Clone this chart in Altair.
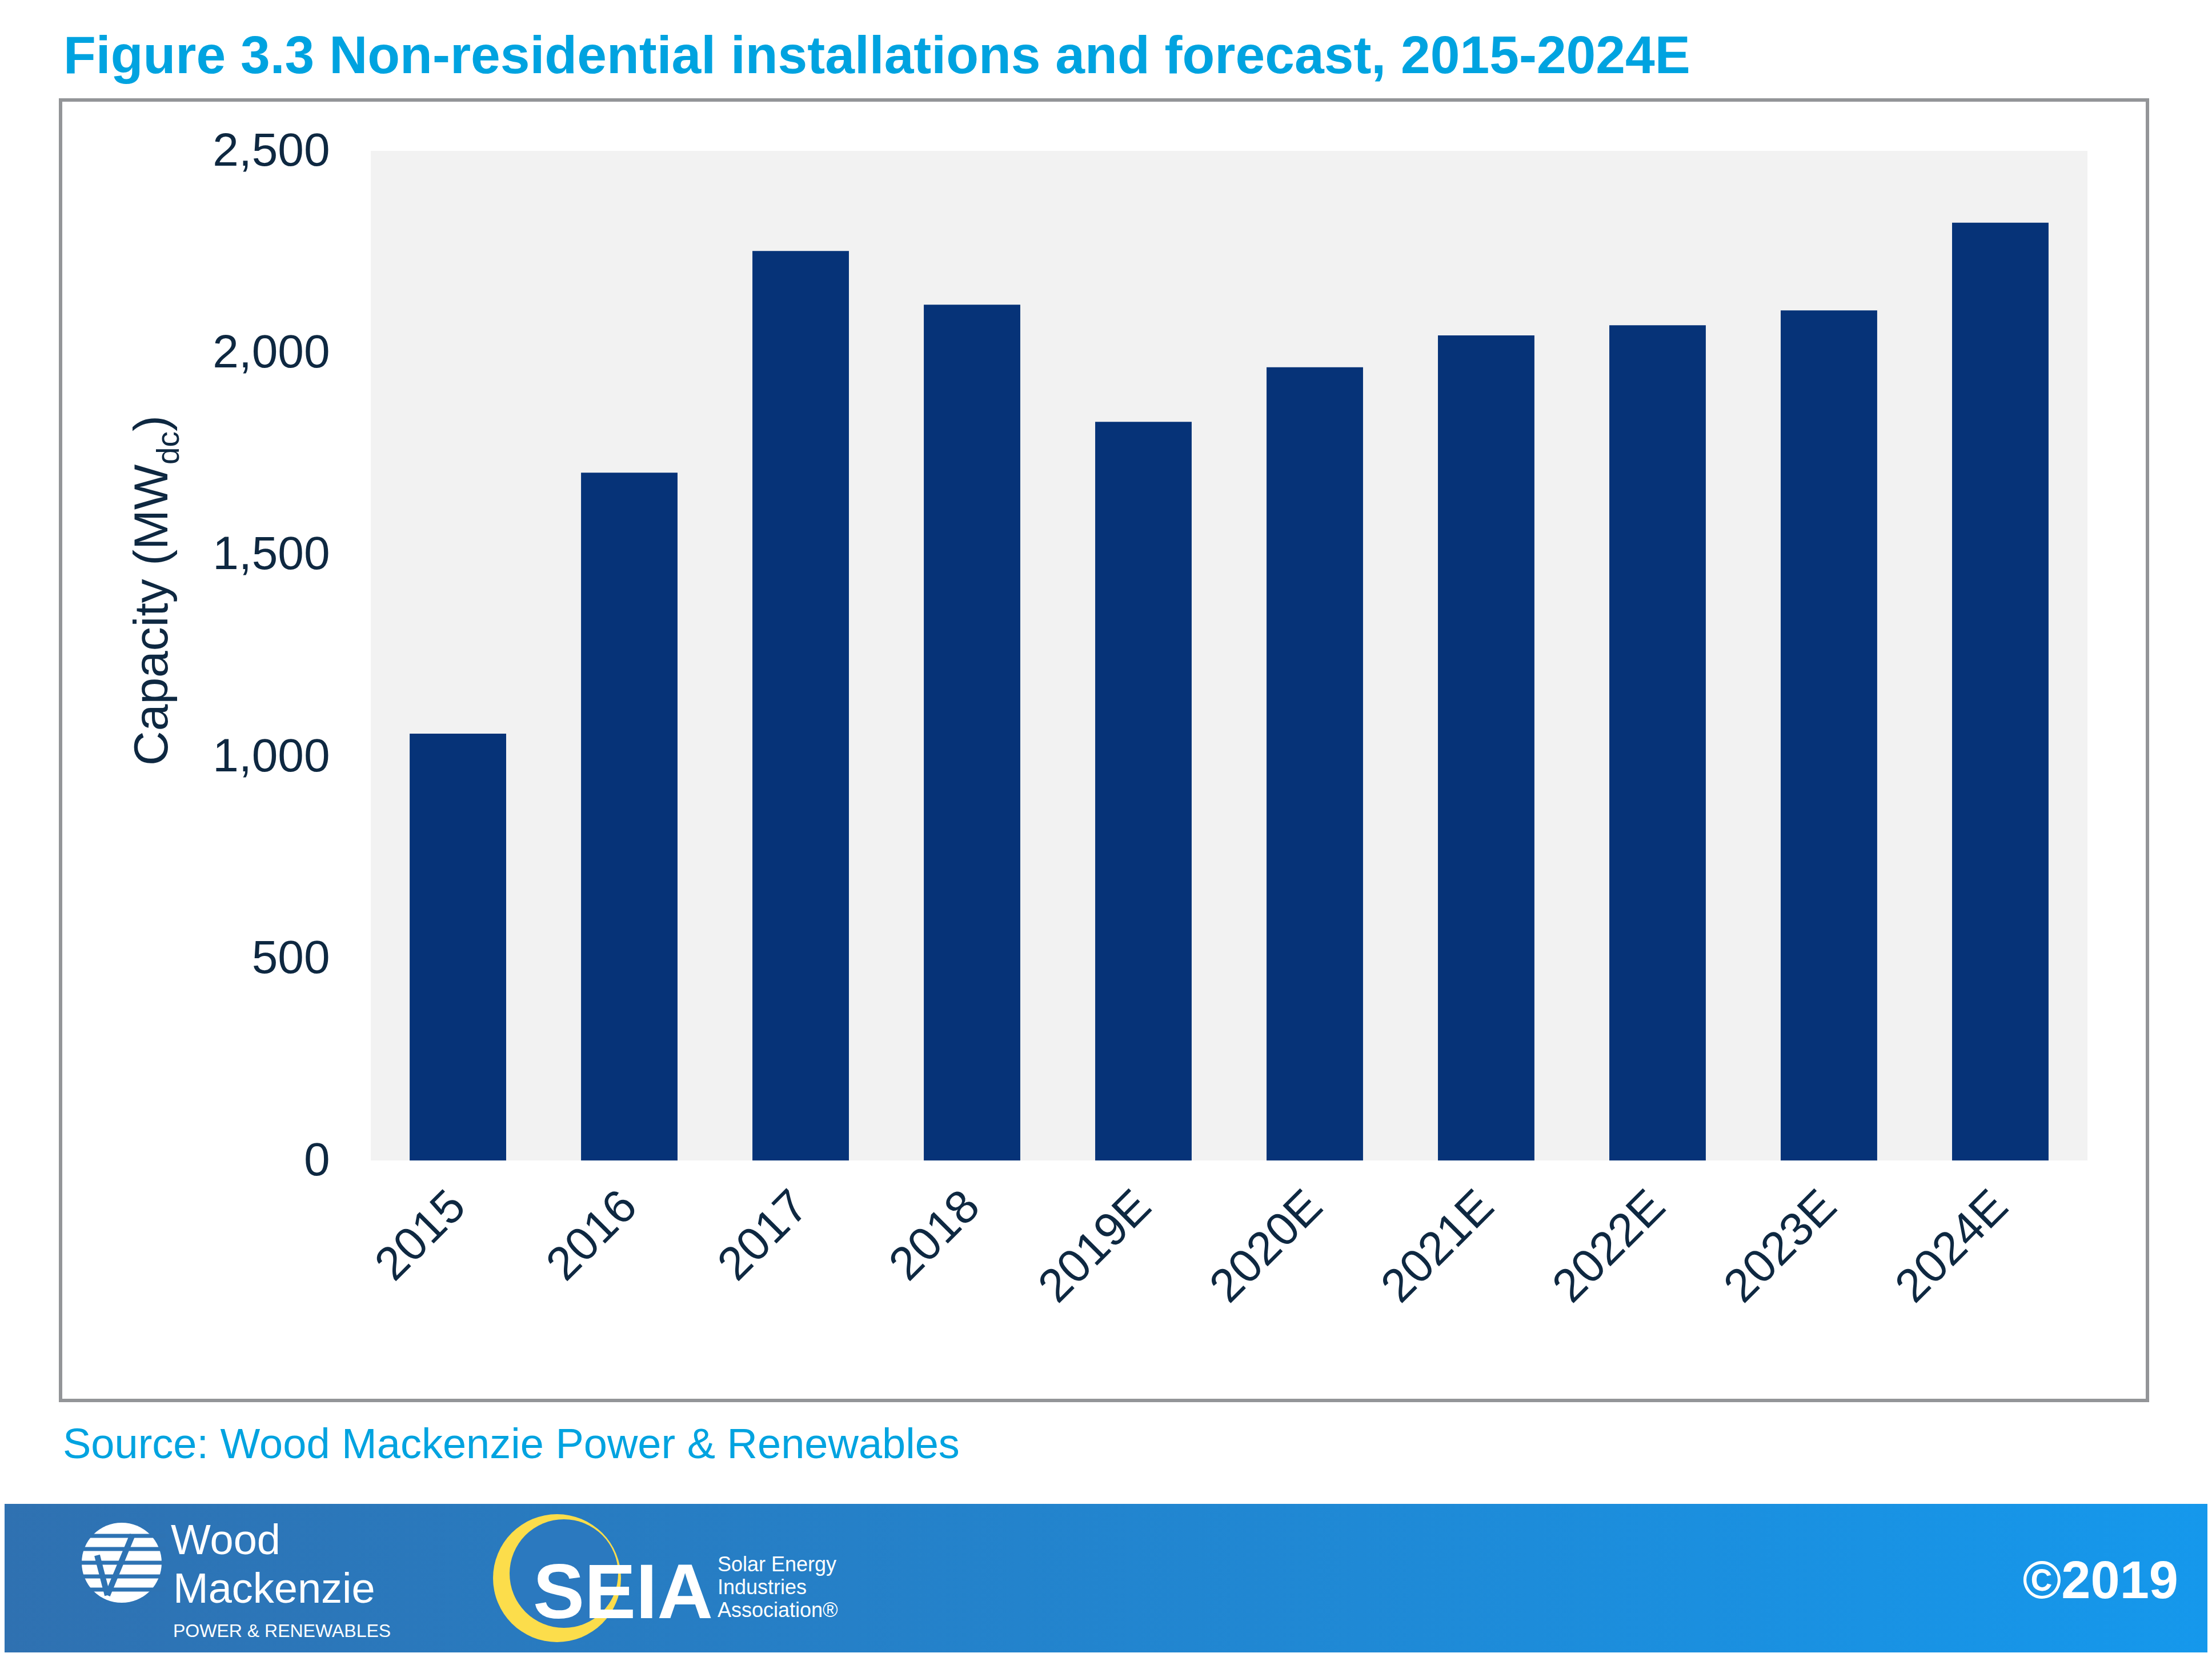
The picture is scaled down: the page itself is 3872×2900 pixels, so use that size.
import altair as alt
import pandas as pd

# ---------------- data ----------------
years = ["2015", "2016", "2017", "2018", "2019E", "2020E", "2021E", "2022E", "2023E", "2024E"]
capacity = [1057, 1703, 2252, 2119, 1829, 1964, 2043, 2068, 2105, 2322]
y_ticks = [0, 500, 1000, 1500, 2000, 2500]

title_text = "Figure 3.3 Non-residential installations and forecast, 2015-2024E"
source_text = "Source: Wood Mackenzie Power & Renewables"
ytitle_main = "Capacity (MW"
ytitle_sub = "dc"
ytitle_close = ")"
copyright_text = "\u00a92019"
wm_line1 = "Wood"
wm_line2 = "Mackenzie"
wm_line3 = "POWER & RENEWABLES"
seia_big = "SEIA"
seia_lines = ["Solar Energy", "Industries", "Association\u00ae"]

df = pd.DataFrame({"year": years, "capacity": capacity})
one = pd.DataFrame({"k": [0]})

# ---------------- style ----------------
W, H = 3005, 1767
FONT = "Liberation Sans, Arial, sans-serif"
TEXT_DARK = "#0E2841"
CYAN = "#00A3E0"
NAVY = "#063378"
FOOT_L = "#2F71B1"
FOOT_R = "#1598EC"


def txt(text, x, y, size, color, weight="normal", align="left", angle=0, baseline="alphabetic"):
    return alt.Chart(one).mark_text(
        text=text, fontSize=size, color=color, fontWeight=weight, align=align,
        baseline=baseline, angle=angle, font=FONT
    ).encode(x=alt.value(x), y=alt.value(y))


def rule(x, y, x2, y2, color, width):
    return alt.Chart(one).mark_rule(color=color, strokeWidth=width).encode(
        x=alt.value(x), y=alt.value(y), x2=alt.value(x2), y2=alt.value(y2))


def dot(x, y, size, color):
    return alt.Chart(one).mark_point(shape="circle", filled=True, size=size, color=color, opacity=1).encode(
        x=alt.value(x), y=alt.value(y))


# ---------------- main bars ----------------
bars = alt.Chart(df).mark_bar(color=NAVY).encode(
    x=alt.X("year:N", sort=years,
            scale=alt.Scale(paddingInner=0.437, paddingOuter=0.227),
            axis=alt.Axis(title=None, labelAngle=315, labelAlign="right", labelBaseline="middle",
                          labelFontSize=82, labelFont=FONT, labelColor=TEXT_DARK, labelPadding=67,
                          labelLimit=2000, ticks=False, tickSize=0, domain=False, labelOverlap=False)),
    y=alt.Y("capacity:Q", scale=alt.Scale(domain=[0, 2500], nice=False),
            axis=alt.Axis(title=None, values=y_ticks, format=",d", labelFontSize=82, labelFont=FONT,
                          labelColor=TEXT_DARK, labelPadding=72, labelLimit=2000, ticks=False,
                          tickSize=0, domain=False, grid=False)),
)

# ---------------- frame, title, source ----------------
frame = alt.Chart(one).mark_rect(fill="white", fillOpacity=0, stroke="#939598", strokeWidth=6).encode(
    x=alt.value(-543), x2=alt.value(3110), y=alt.value(-89), y2=alt.value(2187))

title = txt(title_text, -538, -136, 93, CYAN, weight="bold")
source = txt(source_text, -539, 2288, 74, CYAN)

yt1 = txt(ytitle_main, -356, 1076, 84, TEXT_DARK, angle=270)
yt2 = txt(ytitle_sub, -336, 549, 55, TEXT_DARK, angle=270)
yt3 = txt(ytitle_close, -356, 491, 84, TEXT_DARK, angle=270)

# ---------------- footer ----------------
grad = alt.LinearGradient(
    gradient="linear",
    stops=[alt.GradientStop(color=FOOT_L, offset=0), alt.GradientStop(color=FOOT_R, offset=1)],
    x1=0, x2=1, y1=0, y2=0)
footer = alt.Chart(one).mark_rect(color=grad).encode(
    x=alt.value(-641), x2=alt.value(3215), y=alt.value(2368), y2=alt.value(2628))

# Wood Mackenzie mark
globe = dot(-436, 2471, 19600, "white")
stripes = [rule(-509, yy, -359, yy, "#2E73B3", 7) for yy in (2424, 2447, 2471, 2495, 2518)]
check = [rule(-479, 2458, -461, 2528, "#2E73B3", 10), rule(-461, 2528, -417, 2422, "#2E73B3", 10)]
wm1 = txt(wm_line1, -350, 2456, 74, "white")
wm2 = txt(wm_line2, -346, 2541, 74, "white")
wm3 = txt(wm_line3, -346, 2601, 32, "white")

# SEIA mark
sun = dot(326, 2498, 50176, "#FCDD4B")
mask = dot(338, 2490, 36100, "#2B79BF")
seia = txt(seia_big, 284, 2568, 135, "white", weight="bold")
seia_t = [txt(s, 607, 2486 + 40 * i, 36, "white") for i, s in enumerate(seia_lines)]

copy = txt(copyright_text, 3164, 2533, 92, "white", weight="bold", align="right")

layers = [footer, frame, bars, title, source, yt1, yt2, yt3,
          globe] + stripes + check + [wm1, wm2, wm3, sun, mask, seia] + seia_t + [copy]

chart = alt.layer(*layers).properties(
    width=W, height=H,
    autosize=alt.AutoSizeParams(type="none"),
    padding={"left": 641, "top": 256, "right": 210, "bottom": 861},
    background="white",
).configure_view(fill="#F2F2F2", strokeWidth=0)

chart.save("out.html", embed_options={"renderer": "svg", "actions": False})
